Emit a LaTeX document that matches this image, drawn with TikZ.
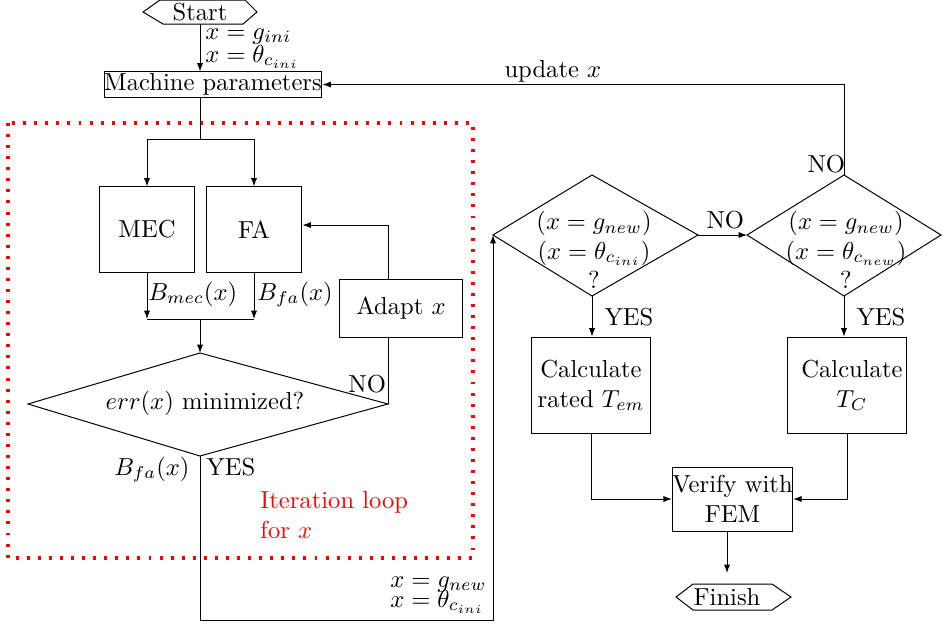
\documentclass[tikz,border=0pt]{standalone}
\usetikzlibrary{arrows.meta,calc}
\begin{document}
\begin{tikzpicture}[x=0.4066pt,y=-0.4066pt,
  arr/.style={-{Latex[length=3.4pt,width=2.5pt]}},
  box/.style={draw, inner sep=0pt, align=center},
  lbl/.style={inner sep=0pt, anchor=base west},
  lble/.style={inner sep=0pt, anchor=base east},
  txt/.style={inner sep=0pt, align=center},
  loopbox/.style={red, line width=1.6pt, dash pattern=on 1.2pt off 3.3pt}]
\useasboundingbox (0,0) rectangle (943,625);

% start / finish
\node[txt] (start) at (200,12) {Start};
\draw ($(start)+(-57,0)$) -- ($(start)+(-40,-12)$) -- ($(start)+(45,-12)$) -- ($(start)+(57,0)$) -- ($(start)+(43,12)$) -- ($(start)+(-37,12)$) -- cycle;
\node[txt] (finish) at (727,597) {Finish};
\draw ($(finish)+(-51,0)$) -- ($(finish)+(-34,-13)$) -- ($(finish)+(45,-13)$) -- ($(finish)+(64,0)$) -- ($(finish)+(45,13)$) -- ($(finish)+(-34,13)$) -- cycle;

% boxes
\node[box, minimum width=88.6pt, minimum height=10.2pt] (mp) at (213,84.5) {Machine parameters};
\node[box, minimum width=39pt, minimum height=34.6pt] (mec) at (147,229.5) {MEC};
\node[box, minimum width=39pt, minimum height=34.6pt] (fa) at (254,229.5) {FA};
\node[box, minimum width=50.4pt, minimum height=23.2pt] (adapt) at (401,308.5) {Adapt $x$};
\node[box, minimum width=48pt, minimum height=39.4pt] (rated) at (591,385.5) {Calculate\\rated $T_{em}$};
\node[box, minimum width=48pt, minimum height=39.4pt] (tc) at (847,385.5) {\hspace*{4pt}Calculate\\\hspace*{4pt}$T_C$};
\node[box, minimum width=48.4pt, minimum height=26pt] (verify) at (732.5,499) {Verify with\\FEM};

% diamonds
\coordinate (d1t) at (200,353); \coordinate (d1r) at (388,404);
\coordinate (d1b) at (200,456); \coordinate (d1l) at (28,404);
\draw (d1t) -- (d1r) -- (d1b) -- (d1l) -- cycle;
\node[inner sep=0pt, anchor=base] (d1txt) at (205,409) {$err(x)$ minimized?};

\coordinate (d2l) at (493,235); \coordinate (d2t) at (592,175);
\coordinate (d2r) at (698,235); \coordinate (d2b) at (592,296);
\draw (d2l) -- (d2t) -- (d2r) -- (d2b) -- cycle;
\node[txt] (d2txt) at (594,250) {$(x=g_{new})$\\$(x=\theta_{c_{ini}})$\\?};

\coordinate (d3l) at (747,235); \coordinate (d3t) at (844,175);
\coordinate (d3r) at (941,235); \coordinate (d3b) at (844,296);
\draw (d3l) -- (d3t) -- (d3r) -- (d3b) -- cycle;
\node[txt] (d3txt) at (846,250) {$(x=g_{new})$\\$(x=\theta_{c_{new}})$\\?};

% iteration loop
\draw[loopbox] (8,123) rectangle (473,558);
\node[inner sep=0pt, anchor=north west, align=left, red] (loopl) at (260,491) {Iteration loop\\for $x$};

% connectors
\draw[arr] ($(start)+(0,12)$) -- (start |- mp.north);
\node[lbl] (l1) at (205,39) {$x=g_{ini}$};
\node[lbl] (l2) at (205,62) {$x=\theta_{c_{ini}}$};

\coordinate (split) at (200,139);
\draw (mp.south -| split) -- (split);
\draw[arr] (split) -| (mec.north);
\draw[arr] (split) -| (fa.north);

\coordinate (join) at (200,319);
\draw[arr] (mec.south) -- (mec.south |- join);
\draw[arr] (fa.south) -- (fa.south |- join);
\draw (mec.south |- join) -- (fa.south |- join);
\draw[arr] (join) -- (d1t);
\node[lbl] (bmec) at (148,300) {$B_{mec}(x)$};
\node[lbl] (bfa) at (257,300) {$B_{fa}(x)$};

\draw (d1r) -- (d1r |- adapt.south);
\draw[arr] (d1r |- adapt.north) |- ([yshift=1.8pt]fa.east);
\node[lbl] (no1) at (348,392) {NO};

\draw[arr] (d1b) -- ++(0,164) -| (d2l);
\node[lble] (bfa2) at (190,475) {$B_{fa}(x)$};
\node[lbl] (yes1) at (206,475) {YES};
\node[lbl] (l3) at (390,587) {$x=g_{new}$};
\node[lbl] (l4) at (390,607) {$x=\theta_{c_{ini}}$};

\draw[arr] (d2r) -- (d3l);
\node[lbl] (no2) at (706,228) {NO};

\draw[arr] (d3t) -- (d3t |- mp.east) -- (mp.east);
\node[lbl] (upd) at (504,77) {update $x$};
\node[lbl] (no3) at (807,172) {NO};

\draw[arr] (d2b) -- (d2b |- rated.north);
\node[lbl] (yes2) at (604,325) {YES};
\draw[arr] (d3b) -- (d3b |- tc.north);
\node[lbl] (yes3) at (856,325) {YES};

\draw[arr] (rated.south) |- (verify.west);
\draw[arr] (tc.south) |- (verify.east);
\draw[arr] (verify.south -| finish) -- ($(finish)+(0,-24)$);
\end{tikzpicture}
\end{document}
